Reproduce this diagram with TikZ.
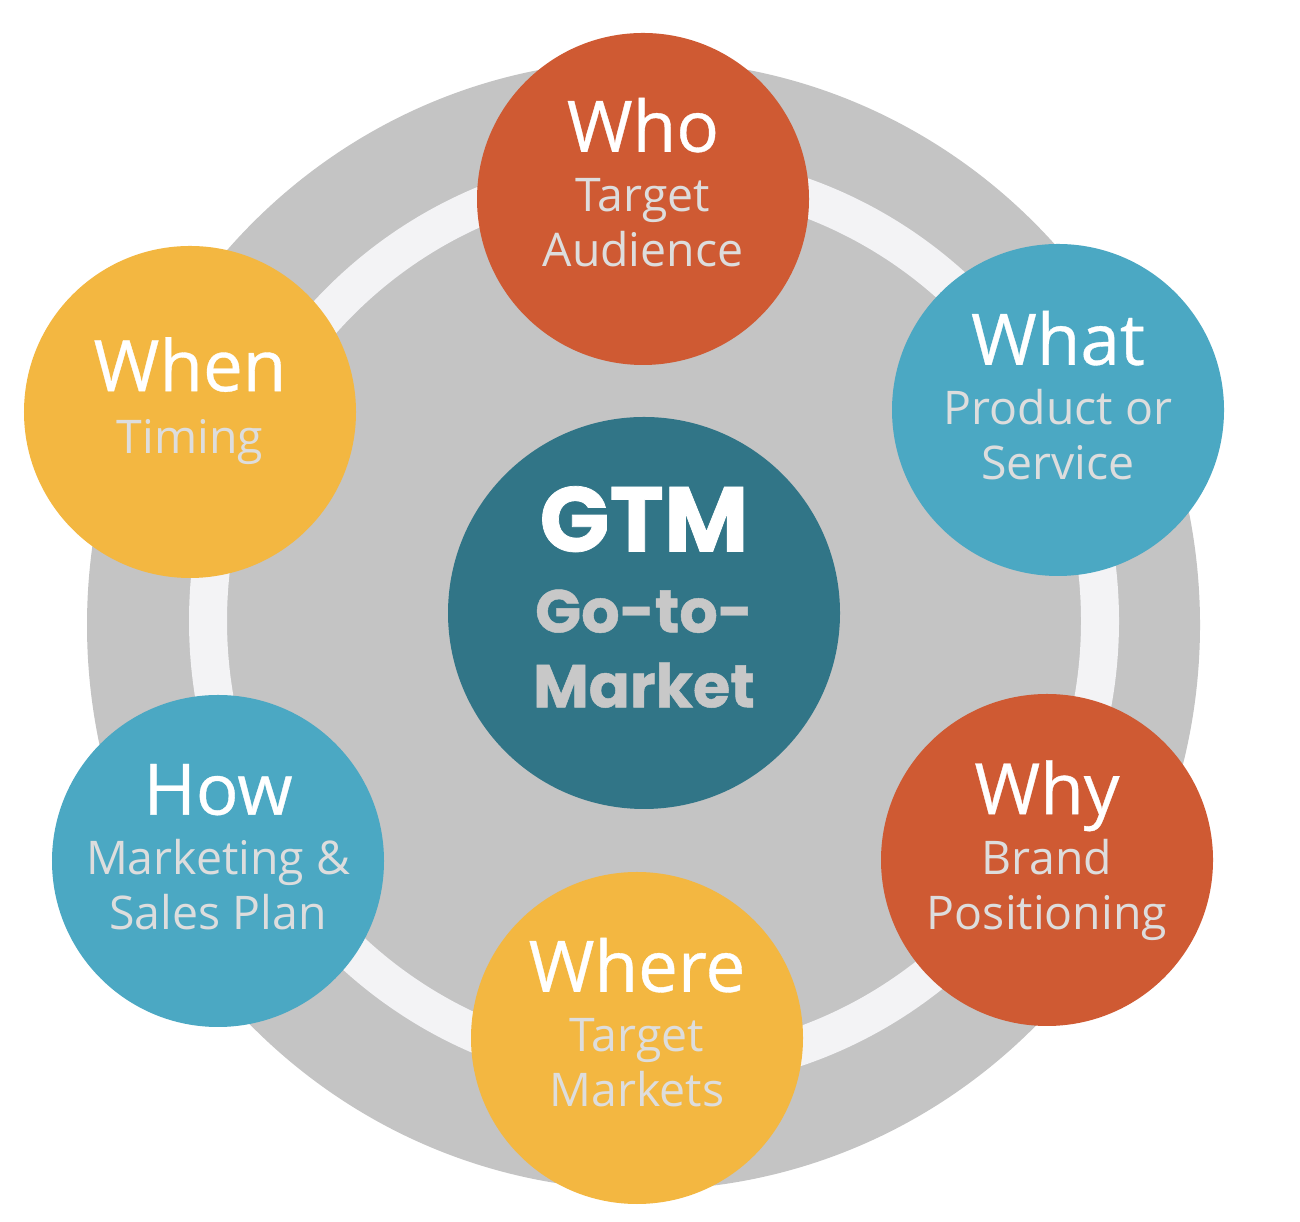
\documentclass[tikz,border=0pt]{standalone}
\usepackage{fontspec}
\setmainfont{Open Sans}
\newfontfamily\gtmfont{Poppins}[FakeBold=0.8]

\definecolor{gtmorange}{HTML}{CF5A33}
\definecolor{gtmblue}{HTML}{4BA8C3}
\definecolor{gtmyellow}{HTML}{F3B741}
\definecolor{gtmteal}{HTML}{317587}
\definecolor{wheelgray}{HTML}{C4C4C4}
\definecolor{ringwhite}{HTML}{F3F3F5}
\definecolor{subgray}{HTML}{DDDDDD}
\definecolor{gtmsub}{HTML}{C8C8C8}

\newcommand{\bigword}[1]{{\color{white}\addfontfeature{FakeBold=0.5}\fontsize{20.2pt}{24pt}\selectfont #1}}

\tikzset{
  bubble/.style={circle, inner sep=0pt, minimum size=3.32cm},
  caption/.style={align=center, inner sep=0pt, text=subgray,
    font=\fontsize{13.2pt}{15.65pt}\selectfont},
}

\begin{document}
\begin{tikzpicture}
  \useasboundingbox (0,0) rectangle (13,12.22);
  \fill[white] (0,0) rectangle (13,12.22);
  % the wheel and its ring
  \fill[wheelgray] (6.435,5.97) ellipse [x radius=5.565, y radius=5.65];
  \draw[ringwhite, line width=0.38cm] (6.54,6.01) ellipse [x radius=4.46, y radius=4.50];
  % the hub
  \node[circle, inner sep=0pt, minimum size=3.92cm, fill=gtmteal] (gtm) at (6.44,6.09) {};
  \node[align=center, inner sep=0pt, text=gtmsub, font=\gtmfont\bfseries\fontsize{17.2pt}{21.3pt}\selectfont]
    (gtm-text) at ([yshift=0.16cm]gtm.center)
    {{\color{white}\fontsize{26.2pt}{30pt}\selectfont GTM}\\[1.7pt] Go-to-\\ Market};
  % the six questions
  \node[bubble, fill=gtmorange] (who) at (6.43,10.23) {};
  \node[bubble, fill=gtmblue] (what) at (10.58,8.12) {};
  \node[bubble, fill=gtmorange] (why) at (10.47,3.62) {};
  \node[bubble, fill=gtmyellow] (where) at (6.37,1.84) {};
  \node[bubble, fill=gtmblue] (how) at (2.18,3.61) {};
  \node[bubble, fill=gtmyellow] (when) at (1.90,8.10) {};
  \node[caption] (who-text) at ([yshift=0.165cm]who.center) {\bigword{Who}\\[1.4pt] Target\\ Audience};
  \node[caption] (what-text) at ([yshift=0.145cm]what.center) {\bigword{What}\\[1.4pt] Product or\\ Service};
  \node[caption] (why-text) at ([yshift=0.097cm]why.center) {\bigword{Why}\\[1.4pt] Brand\\ Positioning};
  \node[caption] (where-text) at ([yshift=0.155cm]where.center) {\bigword{Where}\\[1.4pt] Target\\ Markets};
  \node[caption] (how-text) at ([yshift=0.14cm]how.center) {\bigword{How}\\[1.4pt] Marketing \&\\ Sales Plan};
  \node[caption] (when-text) at ([yshift=0.112cm]when.center) {\bigword{When}\\[2pt] Timing};
\end{tikzpicture}
\end{document}
